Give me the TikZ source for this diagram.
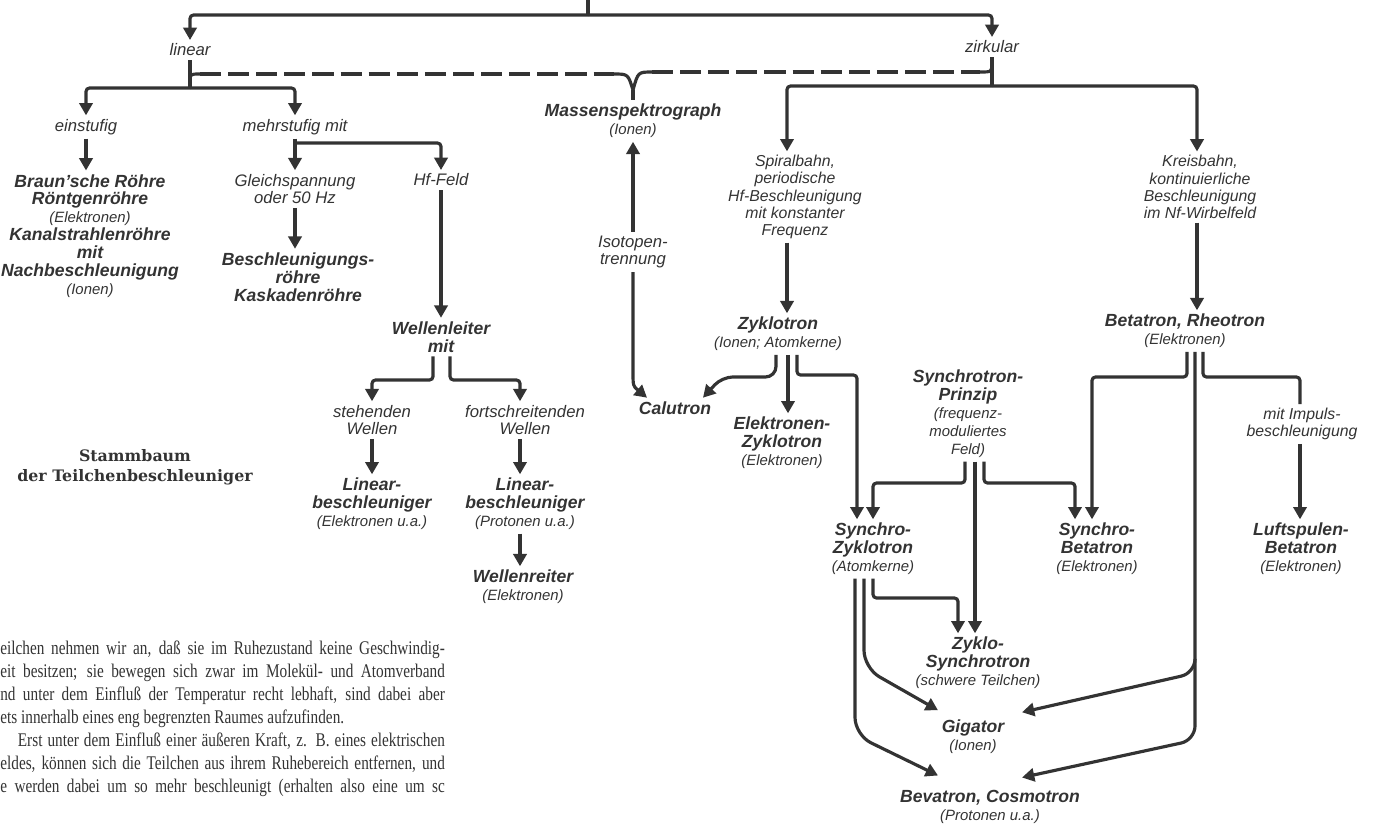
\documentclass[tikz,border=0pt]{standalone}
\usepackage{fontspec}
\setsansfont{Liberation Sans}
\newfontfamily\bodyfont{Liberation Serif}[FakeStretch=0.79]
\newfontfamily\titlefont{DejaVu Serif}
\usetikzlibrary{arrows.meta,calc}
\colorlet{ink}{black!80}
\newcommand\labname{\fontsize{10}{10.2}\selectfont\sffamily\bfseries\itshape}
\newcommand\labmid{\fontsize{9.5}{10}\selectfont\sffamily\itshape}
\newcommand\labsmall{\fontsize{9}{9.8}\selectfont\sffamily\itshape}
\newcommand\labparen{\fontsize{8.5}{10}\selectfont\mdseries}
\tikzset{
	ln/.style={draw=ink, line width=1.8pt, rounded corners=2pt},
	arr/.style={ln, -{Triangle[width=7.5pt,length=7pt]}},
	dashln/.style={draw=ink, line width=1.8pt, dash pattern=on 12pt off 4pt},
	devlab/.style={font=\labname, text=ink, align=center, inner sep=2pt},
	midlab/.style={font=\labmid, text=ink, align=center, inner sep=2pt},
	smalllab/.style={font=\labsmall, text=ink, align=center, inner sep=2pt},
	bodyline/.style={font=\bodyfont\fontsize{11}{13}\selectfont, text=ink, anchor=base west, inner sep=0pt}
}
\begin{document}
\begin{tikzpicture}[x=0.02cm, y=-0.02cm]
	\useasboundingbox (0,0) rectangle (1375,823);
	% first split
	\node[midlab] (linear) at (190,50) {linear};
	\node[midlab] (zirk) at (992,47) {zirkular};
	\coordinate (root) at (588,0);
	\coordinate (rbar) at (588,15);
	\draw[ln] (root) -- (rbar);
	\draw[arr] (rbar) -| (linear);
	\draw[arr] (rbar) -| (zirk);
	% linear branch
	\node[midlab] (einst) at (86,127) {einstufig};
	\node[midlab] (mehr) at (295,127) {mehrstufig mit};
	\node[devlab] (braun) at (90,236) {Braun'sche Röhre\\Röntgenröhre\\{\labparen (Elektronen)}\\Kanalstrahlenröhre\\mit\\Nachbeschleunigung\\{\labparen (Ionen)}};
	\node[midlab] (gleich) at (295,189) {Gleichspannung\\oder 50 Hz};
	\node[midlab] (hf) at (441,180) {Hf-Feld};
	\node[devlab] (beschl) at (298,277) {Beschleunigungs-\\röhre\\Kaskadenröhre};
	\node[devlab] (wl) at (441,337) {Wellenleiter\\mit};
	\node[midlab] (steh) at (372,420) {stehenden\\Wellen};
	\node[midlab] (fort) at (525,420) {fortschreitenden\\Wellen};
	\node[devlab] (linE) at (372,504) {Linear-\\beschleuniger\\{\labparen (Elektronen u.a.)}};
	\node[devlab] (linP) at (525,504) {Linear-\\beschleuniger\\{\labparen (Protonen u.a.)}};
	\node[devlab] (wr) at (523,587) {Wellenreiter\\{\labparen (Elektronen)}};
	\node[font=\titlefont\bfseries\fontsize{9}{11.5}\selectfont, text=ink, align=center] (title) at (135,467) {Stammbaum\\der Teilchenbeschleuniger};
	\coordinate (jlin) at (190,88);
	\draw[ln] (linear) -- (jlin);
	\draw[arr] (jlin) -| (einst);
	\draw[arr] (jlin) -| (mehr);
	\draw[arr] (einst) -- (einst |- braun.north);
	\coordinate (jm) at (295,143);
	\draw[ln] (mehr) -- (jm);
	\draw[arr] (jm) -| (gleich);
	\draw[arr] (jm) -| (hf);
	\draw[arr] (gleich) -- (gleich |- beschl.north);
	\draw[arr] (hf) -- (hf |- wl.north);
	\draw[arr] (433,0 |- wl.south) |- (372,380) -- (steh);
	\draw[arr] (450,0 |- wl.south) |- (520,380) -- (520,0 |- fort.north);
	\draw[arr] (steh) -- (steh |- linE.north);
	\draw[arr] (520,0 |- fort.south) -- (520,0 |- linP.north);
	\draw[arr] (520,0 |- linP.south) -- (520,0 |- wr.north);
	% dashed link to the mass spectrograph
	\node[devlab] (mass) at (633,121) {Massenspektrograph\\{\labparen (Ionen)}};
	\coordinate (dl) at (190,82);
	\coordinate (ym) at (633,90);
	\draw[ln] (dl) .. controls (190,74) .. (200,74);
	\draw[dashln] (200,74) -- (614,74);
	\draw[ln] (614,74) .. controls (628,74) .. (ym);
	\draw[ln] (652,72) .. controls (638,72) .. (ym);
	\draw[dashln] (652,72) -- (980,72);
	\draw[ln] (980,72) .. controls (992,72) .. (992,62);
	\draw[ln] (ym) -- (mass);
	\node[midlab] (iso) at (633,252) {Isotopen-\\trennung};
	\node[devlab] (calu) at (675,408) {Calutron};
	\draw[arr] (iso) -- (mass);
	\draw[arr] (iso) -- (633,368) .. controls (633,386) .. ($(calu.north west)+(12,0)$);
	% circular branch
	\node[smalllab] (spir) at (795,197) {Spiralbahn,\\periodische\\Hf-Beschleunigung\\mit konstanter\\Frequenz};
	\node[smalllab] (kreis) at (1200,187) {Kreisbahn,\\kontinuierliche\\Beschleunigung\\im Nf-Wirbelfeld};
	\coordinate (jz) at (992,86);
	\draw[ln] (zirk) -- (jz);
	\draw[arr] (jz) -| (787,0 |- spir.north);
	\draw[arr] (jz) -| (1197,0 |- kreis.north);
	\node[devlab] (zyk) at (778,334) {Zyklotron\\{\labparen (Ionen; Atomkerne)}};
	\node[devlab] (ezyk) at (782,443) {Elektronen-\\Zyklotron\\{\labparen (Elektronen)}};
	\node[devlab] (sprin) at (968,414) {Synchrotron-\\Prinzip\\{\labparen (frequenz-}\\{\labparen moduliertes}\\{\labparen Feld)}};
	\node[devlab] (szyk) at (873,549) {Synchro-\\Zyklotron\\{\labparen (Atomkerne)}};
	\node[devlab] (beta) at (1185,331) {Betatron, Rheotron\\{\labparen (Elektronen)}};
	\node[smalllab] (impuls) at (1302,424) {mit Impuls-\\beschleunigung};
	\node[devlab] (sbeta) at (1097,549) {Synchro-\\Betatron\\{\labparen (Elektronen)}};
	\node[devlab] (luft) at (1301,549) {Luftspulen-\\Betatron\\{\labparen (Elektronen)}};
	\node[devlab] (zsyn) at (978,663) {Zyklo-\\Synchrotron\\{\labparen (schwere Teilchen)}};
	\node[devlab] (giga) at (973,737) {Gigator\\{\labparen (Ionen)}};
	\node[devlab] (beva) at (990,807) {Bevatron, Cosmotron\\{\labparen (Protonen u.a.)}};
	\draw[arr] (787,0 |- spir.south) -- (787,0 |- zyk.north);
	\draw[arr,rounded corners=6pt] (776,0 |- zyk.south) |- (722,377) -- ($(calu.north east)+(-12,0)$);
	\draw[arr] (788,0 |- zyk.south) -- (788,0 |- ezyk.north);
	\draw[arr] (797,0 |- zyk.south) |- (857,375) -- (857,0 |- szyk.north);
	\draw[arr] (965,0 |- sprin.south) |- (873,483) -- (873,0 |- szyk.north);
	\draw[arr] (975,0 |- sprin.south) -- (975,0 |- zsyn.north);
	\draw[arr] (984,0 |- sprin.south) |- (1075,483) -- (1075,0 |- sbeta.north);
	\draw[arr] (1197,0 |- kreis.south) -- (1197,0 |- beta.north);
	\draw[arr] (1187,0 |- beta.south) |- (1092,377) -- (1092,0 |- sbeta.north);
	\draw[ln] (1203,0 |- beta.south) |- (1300,377) -- (1300,0 |- impuls.north);
	\draw[arr] (1300,0 |- impuls.south) -- (1300,0 |- luft.north);
	\draw[arr,rounded corners=8pt] (1195,0 |- beta.south) -- (1195,740) -- ($(beva.north)+(32,-9)$);
	\draw[arr,rounded corners=8pt] (1195,660) -- (1195,673) -- ($(giga.north)+(49,-4)$);
	\draw[arr] (873,0 |- szyk.south) |- (958,598) -- (958,0 |- zsyn.north);
	\draw[arr,rounded corners=10pt] (864,0 |- szyk.south) -- (864,668) -- ($(giga.north)+(-35,-6)$);
	\draw[arr,rounded corners=10pt] (855,0 |- szyk.south) -- (855,735) -- ($(beva.north)+(-52,-11)$);
	% running text below
	\node[bodyline] (p1) at (0,654) {\hbox to 253pt{eilchen nehmen wir an, daß sie im Ruhezustand keine Geschwindig-}};
	\node[bodyline] (p2) at (0,677) {\hbox to 253pt{eit besitzen; sie bewegen sich zwar im Molekül- und Atomverband}};
	\node[bodyline] (p3) at (0,700) {\hbox to 253pt{nd unter dem Einfluß der Temperatur recht lebhaft, sind dabei aber}};
	\node[bodyline] (p4) at (0,723) {ets innerhalb eines eng begrenzten Raumes aufzufinden.};
	\node[bodyline] (p5) at (0,746) {\hbox to 253pt{\hskip 10pt Erst unter dem Einfluß einer äußeren Kraft, z. B. eines elektrischen}};
	\node[bodyline] (p6) at (0,769) {\hbox to 253pt{eldes, können sich die Teilchen aus ihrem Ruhebereich entfernen, und}};
	\node[bodyline] (p7) at (0,792) {\hbox to 253pt{e werden dabei um so mehr beschleunigt (erhalten also eine um sc}};
\end{tikzpicture}
\end{document}
